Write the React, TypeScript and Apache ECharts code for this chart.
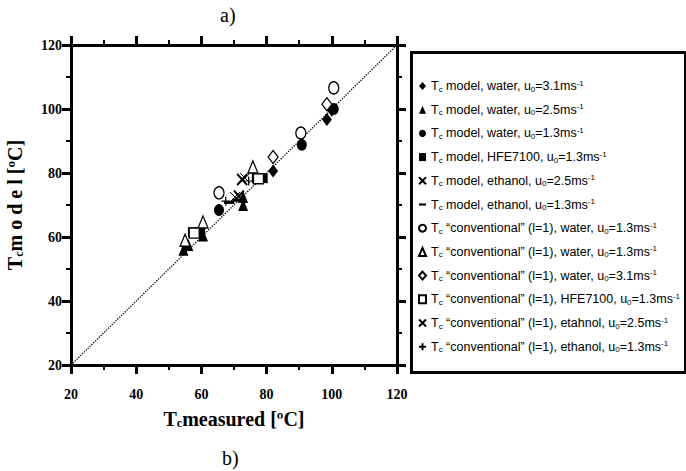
import React, { useEffect, useRef } from "react";
import * as echarts from "echarts";

// Tick labels / axis range
const axisMin = 20;
const axisMax = 120;
const axisStep = 20;

// Series names (legend)
const names = [
  "Tc model, water, u0=3.1ms-1",
  "Tc model, water, u0=2.5ms-1",
  "Tc model, water, u0=1.3ms-1",
  "Tc model, HFE7100, u0=1.3ms-1",
  "Tc model, ethanol, u0=2.5ms-1",
  "Tc model, ethanol, u0=1.3ms-1",
  "Tc \u201cconventional\u201d (l=1), water, u0=1.3ms-1",
  "Tc \u201cconventional\u201d (l=1), water, u0=1.3ms-1 ",
  "Tc \u201cconventional\u201d (l=1), water, u0=3.1ms-1",
  "Tc \u201cconventional\u201d (l=1), HFE7100, u0=1.3ms-1",
  "Tc \u201cconventional\u201d (l=1), etahnol, u0=2.5ms-1",
  "Tc \u201cconventional\u201d (l=1), ethanol, u0=1.3ms-1",
];

// [measured, model]
const modelWater31 = [[82, 80.6], [98.5, 96.7], [100, 99.6]];
const modelWater25 = [[54.5, 56], [56, 57.5], [60.5, 60.5], [72.8, 70], [72.8, 72.5]];
const modelWater13 = [[65.4, 68.4], [90.8, 88.8], [100.6, 100]];
const modelHFE13 = [[57.4, 61.5], [59.6, 61.5], [77, 78.4], [78.8, 78.4]];
const modelEth25 = [[70.3, 72.5], [73.4, 78.4]];
const modelEth13 = [[68.5, 70.8], [71, 71.5]];
const convWater13c = [[65.4, 73.8], [90.5, 92.5], [100.6, 106.6]];
const convWater13t = [[55, 59], [60.5, 64.7], [75.8, 81.9]];
const convWater31 = [[82, 85], [98.5, 101.5]];
const convHFE13 = [[57.8, 61.2], [77.5, 78.2]];
const convEth25 = [[72.5, 78], [71.5, 72.8]];
const convEth13 = [[67.5, 71.2], [74.5, 77.5]];
const diagonal = [[20, 20], [120, 120]];

const serif = "'Liberation Serif', 'Times New Roman', serif";
const sans = "'Liberation Sans', Arial, sans-serif";

const filled = { color: "#000", borderColor: "#000", borderWidth: 0, opacity: 1 };
const empty = { color: "#fff", borderColor: "#000", borderWidth: 1.3, opacity: 1 };
const stroke = (w: number) => ({ color: "#000", borderColor: "#000", borderWidth: w, opacity: 1 });

const xPath = "path://M0,0L10,10M10,0L0,10";
const plusPath = "path://M5,0L5,10M0,5L10,5";
const dashPath = "path://M0,0L10,0L10,3L0,3Z";

const seriesDefs: any[] = [
  { data: modelWater31, symbol: "diamond", symbolSize: [10, 13], itemStyle: filled },
  { data: modelWater25, symbol: "triangle", symbolSize: [10, 12], itemStyle: filled },
  { data: modelWater13, symbol: "circle", symbolSize: [10, 12], itemStyle: filled },
  { data: modelHFE13, symbol: "rect", symbolSize: [10, 10], itemStyle: filled },
  { data: modelEth25, symbol: xPath, symbolSize: [10, 10], itemStyle: stroke(1) },
  { data: modelEth13, symbol: "rect", symbolSize: [10, 3], itemStyle: filled },
  { data: convWater13c, symbol: "circle", symbolSize: [10, 12], itemStyle: empty },
  { data: convWater13t, symbol: "triangle", symbolSize: [10, 12], itemStyle: empty },
  { data: convWater31, symbol: "diamond", symbolSize: [10, 13], itemStyle: empty },
  { data: convHFE13, symbol: "rect", symbolSize: [10, 10], itemStyle: empty },
  { data: convEth25, symbol: xPath, symbolSize: [10, 11], itemStyle: stroke(2) },
  { data: convEth13, symbol: plusPath, symbolSize: [9, 9], itemStyle: stroke(1.2) },
];

const legendIcons: (string | undefined)[] = [
  undefined, undefined, undefined, undefined, undefined, dashPath,
  undefined, undefined, undefined, undefined, undefined, undefined,
];

const richSub = {
  s: { fontSize: 8, fontFamily: sans, lineHeight: 5, verticalAlign: "bottom", color: "#000" },
  p: { fontSize: 8, fontFamily: sans, lineHeight: 6, verticalAlign: "top", color: "#000" },
};

function fmtLegend(name: string) {
  return name
    .trim()
    .replace(/^Tc/, "T{s|c}")
    .replace(/u0=/, "u{s|0}=")
    .replace(/ms-1$/, "ms{p|-1}");
}

export default function App() {
  const ref = useRef<HTMLDivElement>(null);
  useEffect(() => {
    const chart = echarts.init(ref.current!, null, { renderer: "svg" });
    const axisCommon = {
      type: "value",
      min: axisMin,
      max: axisMax,
      interval: axisStep,
      axisLine: { show: true, lineStyle: { color: "#000", width: 3 } },
      axisTick: { show: true, inside: false, length: 9, lineStyle: { color: "#000", width: 3 } },
      minorTick: { show: true, splitNumber: 2, length: 5, lineStyle: { color: "#000", width: 2 } },
      splitLine: { show: false },
      minorSplitLine: { show: false },
    };
    const labelStyle = { fontFamily: serif, fontWeight: "bold", fontSize: 14, color: "#000" };
    const nameStyle = {
      fontFamily: serif,
      fontWeight: "bold",
      fontSize: 20,
      color: "#000",
      rich: {
        s: { fontFamily: serif, fontWeight: "bold", fontSize: 12, lineHeight: 4, verticalAlign: "bottom", color: "#000" },
      },
    };
    const option: any = {
      animation: false,
      backgroundColor: "#fff",
      grid: { left: 71, right: 289, top: 45, bottom: 106 },
      xAxis: [
        {
          ...axisCommon,
          position: "bottom",
          axisLabel: { ...labelStyle, margin: 22 },
          name: "T{s|c}measured [ºC]",
          nameLocation: "middle",
          nameGap: 44,
          nameTextStyle: nameStyle,
        },
        { ...axisCommon, position: "top", axisLabel: { show: false } },
      ],
      yAxis: [
        {
          ...axisCommon,
          position: "left",
          axisLabel: { ...labelStyle, margin: 9 },
          name: "T{s|c}m o d e l [ºC]",
          nameLocation: "middle",
          nameGap: 46,
          nameTextStyle: nameStyle,
        },
        { ...axisCommon, position: "right", axisLabel: { show: false } },
      ],
      legend: {
        data: names.map((n, i) => (legendIcons[i] ? { name: n, icon: legendIcons[i] } : n)),
        orient: "vertical",
        left: 418,
        top: 79,
        padding: 0,
        itemWidth: 7,
        itemHeight: 8,
        itemGap: 9.7,
        formatter: fmtLegend,
        textStyle: { fontFamily: sans, fontSize: 12.5, lineHeight: 14, color: "#000", rich: richSub },
        selectedMode: false,
      },
      graphic: [
        { type: "rect", left: 409, top: 50, shape: { width: 274, height: 320 }, style: { fill: "none", stroke: "#000", lineWidth: 3 } },
        { type: "text", left: 220, top: 5, style: { text: "a)", font: `20px ${serif}`, fill: "#000" } },
        { type: "text", left: 222, top: 448, style: { text: "b)", font: `20px ${serif}`, fill: "#000" } },
      ],
      series: [
        {
          type: "line",
          data: diagonal,
          symbol: "none",
          silent: true,
          lineStyle: { type: "dotted", width: 1.3, color: "#000" },
          z: 1,
        },
        ...seriesDefs.map((d, i) => ({
          type: "scatter",
          name: names[i],
          z: 2 + i,
          ...d,
        })),
      ],
    };
    chart.setOption(option);
    return () => chart.dispose();
  }, []);
  return <div ref={ref} style={{ position: "absolute", left: 0, top: 0, width: 686, height: 471 }} />;
}
